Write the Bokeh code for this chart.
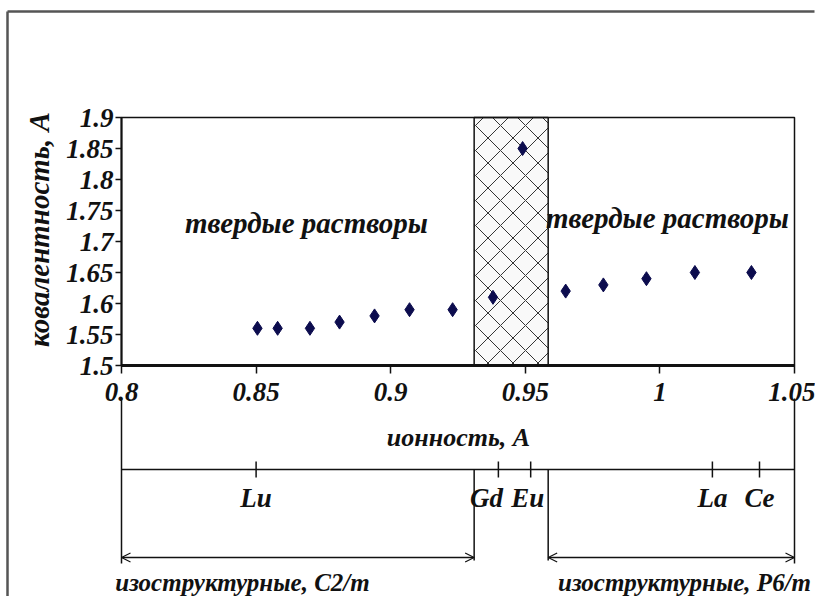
import math
from bokeh.plotting import figure
from bokeh.models import Range1d, Arrow, OpenHead, FixedTicker
from bokeh.core.properties import value
from bokeh.embed import file_html
from bokeh.resources import INLINE

# ---------------- data ----------------
ionic_radius = [0.8505, 0.858, 0.870, 0.881, 0.894, 0.907, 0.923,
                0.938, 0.949, 0.965, 0.979, 0.995, 1.013, 1.034]
covalent_radius = [1.56, 1.56, 1.56, 1.57, 1.58, 1.59, 1.59,
                   1.61, 1.85, 1.62, 1.63, 1.64, 1.65, 1.65]

x_ticks = [0.8, 0.85, 0.9, 0.95, 1.0, 1.05]
x_tick_labels = ["0.8", "0.85", "0.9", "0.95", "1", "1.05"]
y_ticks = [1.5, 1.55, 1.6, 1.65, 1.7, 1.75, 1.8, 1.85, 1.9]
y_tick_labels = ["1.5", "1.55", "1.6", "1.65", "1.7", "1.75", "1.8", "1.85", "1.9"]

elements = ["Lu", "Gd", "Eu", "La", "Ce"]
element_radius = [0.85, 0.940, 0.952, 1.0195, 1.037]

transition_zone = [0.931, 0.9585]

region_text = "твердые растворы"
struct_labels = ["изоструктурные, C2/m", "изоструктурные, P6/m"]
x_title = "ионность, А"
y_title = "ковалентность, А"

# ---------------- layout ----------------
W, H = 815, 596
X0, X1 = x_ticks[0], x_ticks[-1]
Y0, Y1 = y_ticks[0], y_ticks[-1]
PX_LEFT, PX_RIGHT = 121, 794      # pixel columns of X0 and X1
PX_TOP, PX_BOTTOM = 117, 365      # pixel rows of Y1 and Y0
sx = (PX_RIGHT - PX_LEFT) / (X1 - X0)
sy = (PX_BOTTOM - PX_TOP) / (Y1 - Y0)


def xpos(px):
    return X0 + (px - PX_LEFT) / sx


def ypos(py):
    return Y0 + (PX_BOTTOM - py) / sy


FONT = "Liberation Serif"
INK = "#111111"

p = figure(width=W, height=H, output_backend="svg", toolbar_location=None,
           x_range=Range1d(xpos(0), xpos(W)), y_range=Range1d(ypos(H), ypos(0)),
           min_border_left=0, min_border_right=0, min_border_top=0, min_border_bottom=0)
p.background_fill_color = "white"
p.border_fill_color = "white"
p.outline_line_color = None
p.xgrid.visible = False
p.ygrid.visible = False

# hatched transition zone
p.quad(left=[transition_zone[0]], right=[transition_zone[1]], bottom=[Y0], top=[Y1],
       fill_color="#f9f9f9", line_color=INK, line_width=1.5,
       hatch_pattern="diagonal_cross", hatch_color="#333333",
       hatch_weight=1, hatch_scale=25)

# plot box
p.quad(left=[X0], right=[X1], bottom=[Y0], top=[Y1], fill_color=None,
       line_color=INK, line_width=1.5)

# data points
p.scatter(ionic_radius, covalent_radius, marker="diamond", size=14,
          fill_color="#0c0c4e", line_color="#0c0c4e")

# axes, fixed at the plot box
for ax in (p.xaxis[0], p.yaxis[0]):
    ax.major_label_text_font = FONT
    ax.major_label_text_font_style = "bold italic"
    ax.major_label_text_font_size = "27px"
    ax.major_label_text_color = INK
    ax.axis_line_color = INK
    ax.major_tick_line_color = INK
    ax.minor_tick_line_color = None
    ax.major_tick_in = 0

p.xaxis.fixed_location = Y0
p.xaxis.bounds = (X0, X1)
p.xaxis.ticker = FixedTicker(ticks=x_ticks)
p.xaxis.major_label_overrides = dict(zip(x_ticks, x_tick_labels))
p.xaxis.axis_line_width = 3
p.xaxis.major_tick_line_width = 1.5
p.xaxis.major_tick_out = 8
p.xaxis.major_label_standoff = 9

p.yaxis.fixed_location = X0
p.yaxis.bounds = (Y0, Y1)
p.yaxis.ticker = FixedTicker(ticks=y_ticks)
p.yaxis.major_label_overrides = dict(zip(y_ticks, y_tick_labels))
p.yaxis.axis_line_width = 2
p.yaxis.major_tick_line_width = 1.5
p.yaxis.major_tick_out = 6
p.yaxis.major_label_standoff = 2


def texts(xs, ys, labels, size, angle=0.0, x_offset=0):
    p.text(x=xs, y=ys, text=labels, angle=angle, x_offset=x_offset,
           text_font=value(FONT), text_font_style="bold italic",
           text_font_size=value(size), text_color=INK,
           text_align="center", text_baseline="middle")


# titles
texts([xpos(38)], [ypos(229)], [y_title], "29px", angle=math.pi / 2)
texts([xpos(458)], [ypos(437)], [x_title], "26px")

# region annotations inside the plot
texts([xpos(306), xpos(667)], [ypos(222), ypos(217)], [region_text, region_text], "29px")

# ---------------- element scale below the axis ----------------
scale_y = ypos(469)
tick_h = 8 / sy
p.segment(x0=[X0], y0=[scale_y], x1=[X1], y1=[scale_y], line_color=INK, line_width=1.5)
p.segment(x0=[X0, X1], y0=[ypos(398)] * 2, x1=[X0, X1], y1=[ypos(563)] * 2,
          line_color=INK, line_width=1.5)
p.segment(x0=transition_zone, y0=[scale_y] * 2, x1=transition_zone, y1=[ypos(560)] * 2,
          line_color=INK, line_width=1.5)
p.segment(x0=element_radius, y0=[scale_y - tick_h] * len(elements),
          x1=element_radius, y1=[scale_y + tick_h] * len(elements),
          line_color=INK, line_width=1.5)
elem_offsets = [0, -12, -3, 0, 0]
texts(element_radius, [ypos(497)] * len(elements), elements, "27px", x_offset=elem_offsets)

arrow_y = ypos(557)
for a, b in ((X0, transition_zone[0]), (transition_zone[1], X1)):
    p.add_layout(Arrow(x_start=a, y_start=arrow_y, x_end=b, y_end=arrow_y,
                       line_color=INK, line_width=1.5,
                       start=OpenHead(size=9, line_color=INK, line_width=1.2),
                       end=OpenHead(size=9, line_color=INK, line_width=1.2)))

texts([xpos(242), xpos(684)], [ypos(582)] * 2, struct_labels, "25px")

# picture border (top and left edges)
p.segment(x0=[xpos(7), xpos(7)], y0=[ypos(11), ypos(11)],
          x1=[xpos(W - 1), xpos(7)], y1=[ypos(11), ypos(H)],
          line_color="#555555", line_width=2.5)

open("out.html", "w").write(file_html(p, INLINE))
